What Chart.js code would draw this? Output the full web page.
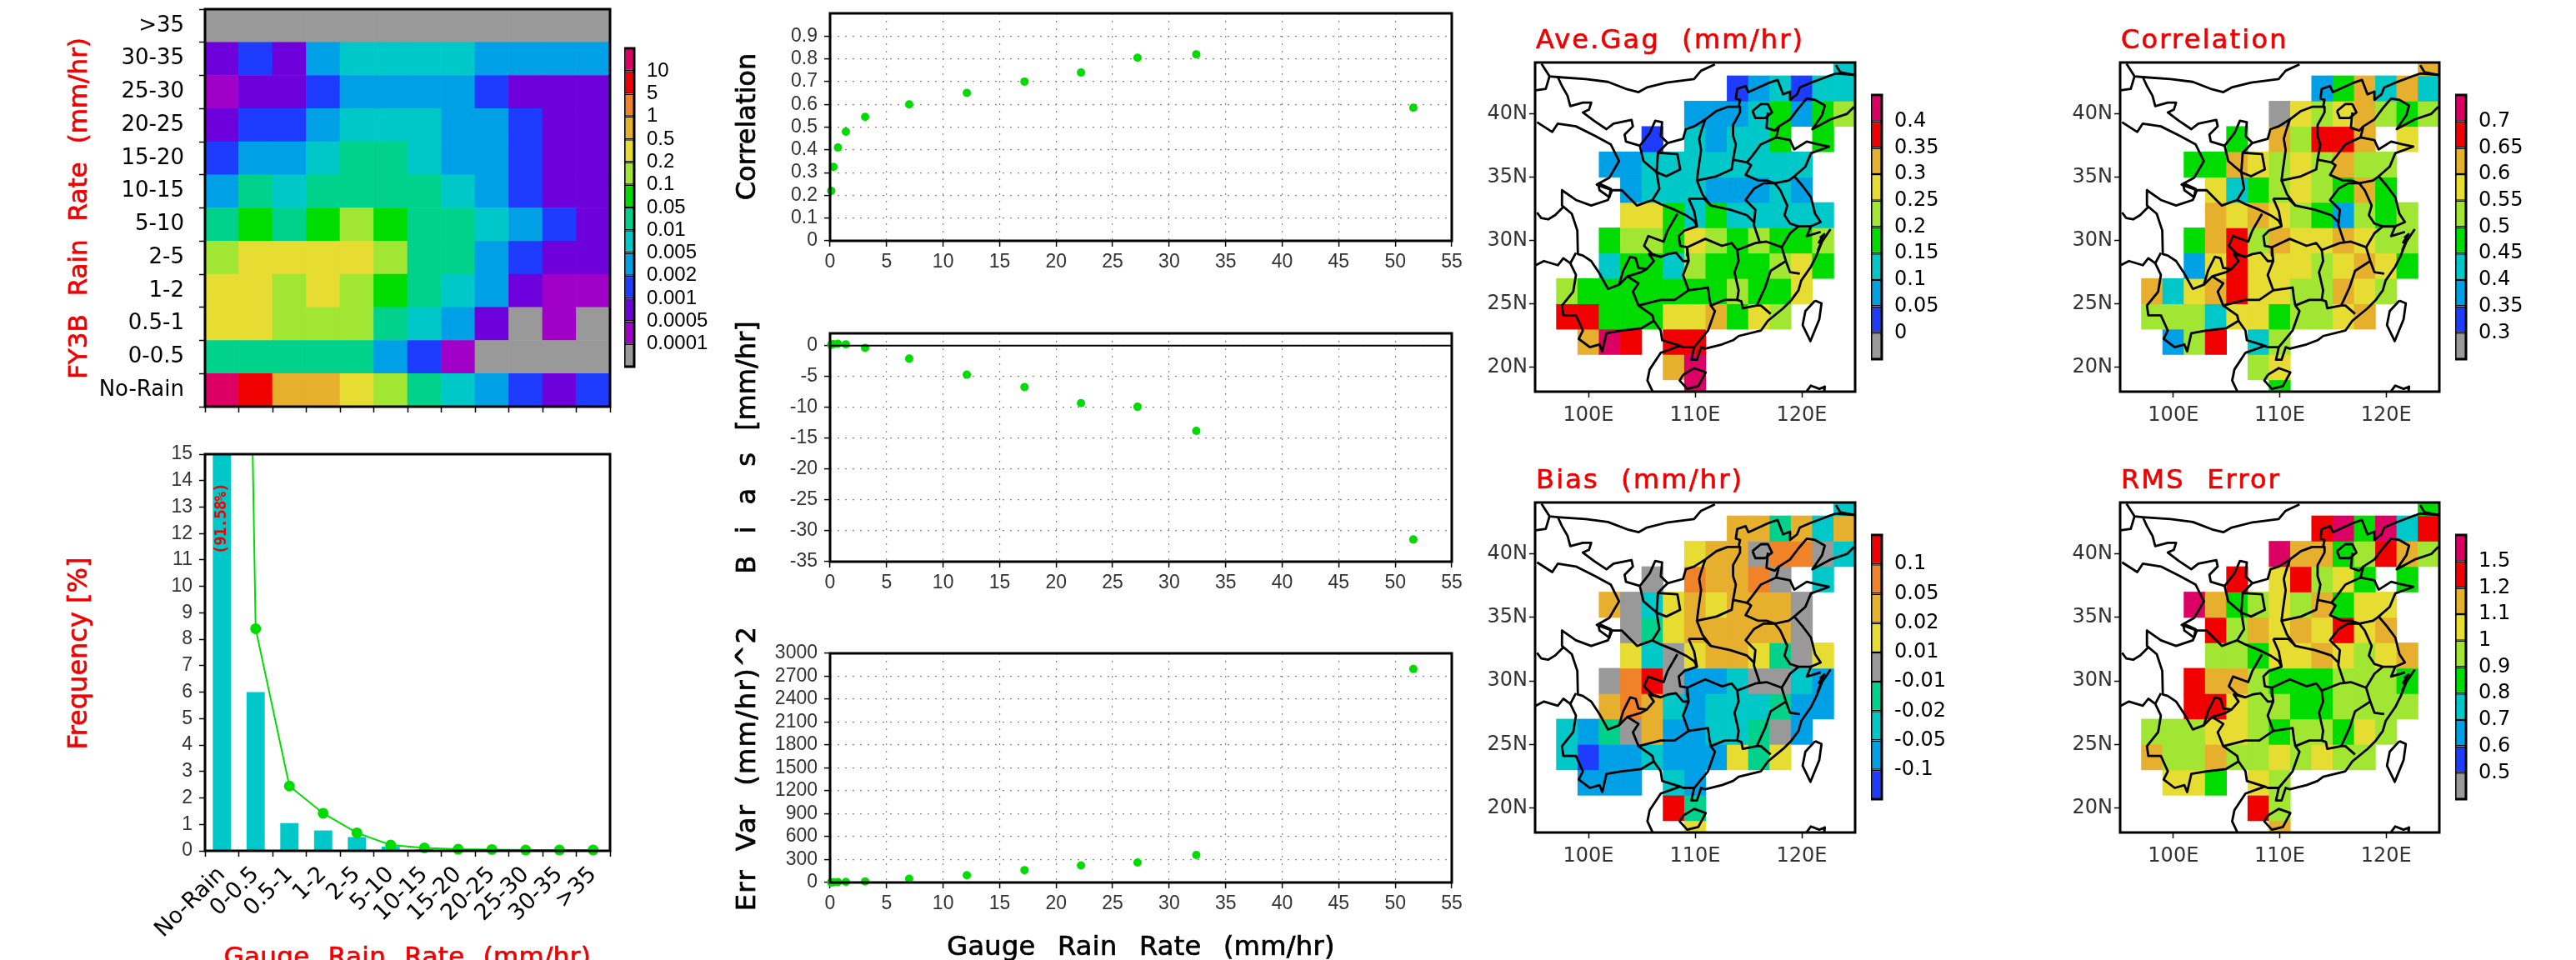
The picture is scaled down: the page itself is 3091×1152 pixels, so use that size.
<!DOCTYPE html>
<html>
<head>
<meta charset="utf-8">
<title>FY3B rain rate validation</title>
<script src="https://cdn.jsdelivr.net/npm/chart.js@4"></script>
<style>
html, body { margin: 0; background: #fff; width: 3091px; height: 1152px; overflow: hidden; }
canvas { position: absolute; }
</style>
</head>
<body>
<script>
// ---- data ----
var rateLabels = ['No-Rain', '0-0.5', '0.5-1', '1-2', '2-5', '5-10', '10-15', '15-20', '20-25', '25-30', '30-35', '>35'];
var freqBars = [91.58, 6.0, 1.05, 0.77, 0.52, 0.16, 0.06, 0.03, 0.02, 0.01, 0.01, 0.01];
var freqLine = [84, 8.4, 2.45, 1.42, 0.68, 0.22, 0.11, 0.06, 0.05, 0.03, 0.03, 0.03];

// heat map colour bins, top row (>35) first, hex digit = bin of heatBarLabels
var heatBins = [
    '000000000000', '232455554444', '122344443222', '233455544322',
    '344566544322', '465666654322', '676787665432', '899998664322',
    '998987654211', '998886542010', '666664310000', 'dcaa98654323'
];
var heatBarLabels = ['0.0001', '0.0005', '0.001', '0.002', '0.005', '0.01', '0.05', '0.1', '0.2', '0.5', '1', '5', '10'];

var gaugeRate = [0.1, 0.3, 0.7, 1.4, 3.1, 7, 12.1, 17.2, 22.2, 27.2, 32.4, 51.6];
var correlation = [0.22, 0.325, 0.41, 0.48, 0.545, 0.6, 0.65, 0.7, 0.74, 0.805, 0.82, 0.585];
var bias = [0.15, 0.25, 0.3, 0.2, -0.35, -2.1, -4.7, -6.7, -9.3, -9.9, -13.8, -31.4];
var errVar = [1, 3, 5, 8, 15, 50, 96, 162, 224, 262, 360, 2795];

var lonTicks = [100, 110, 120];
var latTicks = [20, 25, 30, 35, 40];
var cellLons = [98, 100, 102, 104, 106, 108, 110, 112, 114, 116, 118, 120, 122, 124];
var cellLats = [44, 42, 40, 38, 36, 34, 32, 30, 28, 26, 24, 22, 20, 18];

// map cells, north row first, digit = colour bin, dot = no gauges
var aveGagBins = [
    '.............3', '........123133', '......22234245', '....1.32334.4.', '..2233333333..',
    '...233322232..', '...6643433333.', '..45546545445.', '..34435444564.', '544444445446..',
    '88444667465...', '.798.88.......', '.....79.......', '......9.......'
];
var aveGagLabels = ['0', '0.05', '0.1', '0.15', '0.2', '0.25', '0.3', '0.35', '0.4'];

var corrBins = [
    '.............7', '........247373', '......06567545', '....4.75887.6.', '..4476565755..',
    '...634565474..', '...7676542545.', '..47857667655.', '..26866656764.', '736786655765..',
    '55536645567...', '.258.35.......', '.....56.......', '......4.......'
];
var corrLabels = ['0.3', '0.35', '0.4', '0.45', '0.5', '0.55', '0.6', '0.65', '0.7'];

var biasBins = [
    '.............2', '........663626', '......56647742', '....4.76674.2.', '..6425656664..',
    '...435666664..', '...5245665345.', '..47841124421.', '..67621222311.', '213461122341..',
    '20112111535...', '.111.21.......', '.....83.......', '......5.......'
];
var biasLabels = ['-0.1', '-0.05', '-0.02', '-0.01', '0.01', '0.02', '0.05', '0.1'];

var rmsBins = [
    '.............4', '........894938', '......97745875', '....8.68564.4.', '..9745657466..',
    '...857676867..', '...5546676567.', '..87754445554.', '..88655445555.', '555665455465..',
    '75575565655...', '.664.65.......', '.....85.......', '......7.......'
];
var rmsLabels = ['0.5', '0.6', '0.7', '0.8', '0.9', '1', '1.1', '1.2', '1.5'];

// map outlines in lon / lat
var northBorder = [[95.6,43.95],[96.35,42.96],[97.13,42.9],[99.74,42.74],[101.83,42.52],[103.65,41.93],[104.7,41.71],[105.48,42.08],[107.3,42.46],[109.9,42.74],[110.56,43.4],[111.86,43.9]];
var xinjiangEdge = [[95.05,41.86],[96,41.97],[96.35,42.96]];
var alxaEdge = [[97.13,42.9],[97.52,42.19],[98.04,41.43],[98.3,40.61],[99.48,40.88],[100.26,40.88],[100.05,40.33],[99.48,40.11],[100.52,39.45],[101.69,38.79],[102.35,39.23],[104.04,39.52],[104.17,39.01],[103.39,38.36],[103.52,37.81],[104.82,37.48]];
var qinghaiEdge = [[95.18,39.34],[96.61,38.57],[97.13,39.23],[98.83,39.01],[100.65,38.25],[102.09,37.59],[102.87,36.27],[101.96,34.96],[100.78,34.41],[102.22,33.97],[101.83,33.2],[100.26,32.76],[98.83,33.2],[97.52,33.97],[97.52,32.76],[98.44,32.11],[98.96,30.79],[99.01,28.93],[99.48,28.82],[100.26,28.38],[101.04,27.39],[101.83,26.18],[102.87,26.51],[103.26,27.61],[103.91,28.71],[104.43,28.6],[104.69,27.83],[105.48,27.76],[106.13,28.38],[105.68,28.93],[106.78,28.71],[107.43,28.93],[108.21,29.04],[108.87,28.38],[109.39,28.38]];
var qinghaiLake = [[100.91,34.52],[102.09,34.08],[101.96,33.42],[101.04,33.97],[100.91,34.52]];
var tibetEdge = [[95.18,32.21],[95.57,31.78],[96.22,31.67],[96.87,32],[97.65,32.65]];
var southwestBorder = [[95.05,28.05],[95.83,28.38],[97.13,28.05],[97.65,28.6],[98.3,28.2],[98.83,29.03]];
var southBorder = [[98.3,28.2],[98.83,27.28],[98.57,25.96],[97.52,24.87],[97.65,24.1],[98.83,24.1],[99.48,22.89],[99.09,22.24],[100.13,21.58],[101.04,21.8],[101.3,21.25],[101.69,22.68],[103.13,22.89],[104.95,23.07],[106.13,23.66],[106.78,22.89],[106.91,22.13],[108.6,21.69],[108.87,21.58],[109.91,21.58],[109.65,20.59],[110.17,20.59],[110.56,21.58],[110.95,21.47],[112.52,21.8],[113.56,22.13],[114.08,22.46],[116.17,22.89],[116.82,23.66],[118.25,24.65],[119.03,25.31],[119.69,26.07],[119.95,26.84],[120.86,27.94],[121.38,28.82],[121.9,29.91],[122.69,30.9]];
var vietnamCoast = [[108.6,21.69],[106.78,21.14],[105.74,19.82],[105.53,18.95],[106,18.11]];
var hainan = [[108.87,19.39],[109.91,19.93],[111,19.6],[110.3,18.5],[109.26,18.29],[108.55,18.95],[108.87,19.39]];
var taiwan = [[121.25,25.26],[121.85,25.04],[121.64,23.77],[120.81,22.06],[120.08,23.33],[120.34,24.43],[121.25,25.26]];
var luzon = [[120.47,18.11],[120.86,18.55],[121.64,18.29],[122.16,18.46],[122.11,18.07]];
var zhoushan = [[121.5,29.2],[121.95,30.1],[121.6,29.85],[122.1,30.5],[121.7,30.2]];
var eastCoast = [[121.77,30.68],[120.47,30.35],[120.86,31.12],[121.77,31.45],[121.25,32.11],[120.86,33.42],[120.08,34.3],[119.3,35.07],[120.34,35.83],[120.86,36.89],[122.55,37.41],[121.51,37.59],[120.47,37.81],[119.3,37.19],[118.9,37.92],[117.6,38.14],[117.86,39.01],[118.9,39.56],[119.69,40.44],[120.47,41.21],[121.25,41.1],[122.16,40.66],[121.9,39.89],[120.99,38.79],[122.69,39.56],[124.25,40],[124.9,40.55]];
var koreaEdge = [[123.2,43.84],[123.6,43.29],[124.9,43.07]];
var innerMongolia = [[110.95,39.56],[112,40.22],[113.04,40.55],[114.08,40.55],[114.21,41.1],[113.82,41.21],[113.95,41.97],[114.73,42.19],[115,41.71],[116.82,42.41],[117.73,42.68],[118.25,41.54],[118.9,41.75],[118.9,41.1],[119.56,41.54],[119.82,42.08],[120.73,42.41],[122.69,43.03],[123.21,43.18],[124.9,43.07]];
var yellowRiver = [[110.95,39.56],[110.56,38.57],[110.38,38.03],[110.56,37.15],[110.3,35.61],[110.17,34.74],[112,35.07],[113.43,35.61],[113.56,36.38],[114.86,36.16],[115.38,36.71],[116.17,37.59],[117.6,38.14]];
var shanxiEast = [[114.21,40.55],[114.21,40.11],[113.56,39.12],[113.56,38.25],[113.82,37.59],[113.56,36.38]];
var henanNorth = [[114.86,36.16],[115.25,35.94],[114.73,35.18],[115.91,34.74],[116.69,34.74],[117.47,34.52],[118.77,34.74],[119.3,35.07]];
var beijing = [[115.38,40.22],[116.17,40.77],[116.82,40.77],[117.21,40.11],[116.56,39.67],[115.65,39.67],[115.38,40.22]];
var tianjin = [[116.82,40.11],[116.69,38.9],[117.47,38.68],[117.86,39.01]];
var jiangsuWest = [[117.47,34.52],[117.99,33.97],[118.64,32.76],[118.38,32],[118.9,31.34],[119.69,31.12],[120.86,31.12]];
var zhejiangEdge = [[119.69,31.12],[118.9,30.57],[118.12,29.47],[118.51,28.38],[118.9,27.5],[119.82,27.39]];
var henanSouth = [[110.17,34.74],[110.69,33.64],[111.47,32.76],[113.3,32.43],[114.86,32],[115.51,31.45]];
var anhuiWest = [[117.47,34.52],[116.43,34.52],[115.51,34.08],[114.73,33.2],[115.65,32.43],[115.51,31.23],[116.04,29.91]];
var hubeiWest = [[109.39,33.31],[110.82,33.31],[111.47,32.76]];
var hubeiEdge = [[109.39,33.31],[109.91,32.32],[110.17,31.12],[109,30.79],[108.47,30.35],[108.6,29.58],[109.26,29.47],[109.26,28.82]];
var hunanNorth = [[109.26,29.47],[110.95,30.13],[112.52,29.58],[113.43,29.8],[113.95,29.25],[115.65,29.8],[116.69,29.91],[118.12,29.47]];
var hunanWest = [[109.26,29.47],[109.39,28.38],[108.87,27.28],[109.39,26.07],[111.21,26.29],[111.34,25.42],[111.47,24.87],[111.86,24.43],[111.21,22.89],[109.91,21.58]];
var hunanEast = [[113.95,29.25],[114.08,28.38],[113.69,27.5],[114.08,26.07],[113.95,25.31]];
var guangdongNorth = [[111.47,24.87],[112.78,25.31],[113.95,25.31],[114.34,25.2],[114.47,24.65],[115.78,24.87],[116.17,24.87],[117.08,24.21]];
var jiangxiEast = [[118.51,28.38],[117.08,27.61],[116.56,26.29],[115.78,24.87]];
var guizhouSouth = [[102.87,26.51],[103.65,27.17],[104.69,26.62],[104.17,25.96],[104.69,24.87],[106.78,25.31],[108.08,25.31],[109.39,26.07]];
var guizhouNorth = [[103.65,27.17],[104.95,27.5],[105.48,27.76]];
var yunnanEast = [[104.69,24.87],[106,24.1],[106.13,23.66]];
var chongqing = [[108.34,32.11],[107.43,30.79],[107.04,29.91],[105.61,30.35],[105.22,29.58],[106,28.93],[106.78,28.71]];
var sichuanNorth = [[106,33.2],[106.78,32.87],[108.08,32.43],[109.13,32],[109.91,31.56],[110.17,31.12]];
var ningxia = [[104.82,37.48],[105.74,38.46],[106.26,39.45],[106.91,39.34],[106.78,38.25],[107.43,37.7],[106.52,36.93],[106.39,35.39],[105.16,36.27],[104.82,37.48]];
var gansuEast = [[106.52,36.93],[108.34,36.82],[108.6,35.61],[107.3,35.07],[106.39,35.39],[106.65,34.08],[106,33.2],[104.56,32.76],[103.13,33.97],[102.22,33.97]];
var shaanxiNorth = [[107.43,37.7],[108.87,38.03],[109.13,38.79],[109.91,39.01],[110.95,39.56]];
var outlines = [northBorder, xinjiangEdge, alxaEdge, qinghaiEdge, qinghaiLake, tibetEdge, southwestBorder, southBorder, vietnamCoast, hainan, taiwan, luzon, zhoushan, eastCoast, koreaEdge, innerMongolia, yellowRiver, shanxiEast, henanNorth, beijing, tianjin, jiangsuWest, zhejiangEdge, henanSouth, anhuiWest, hubeiWest, hubeiEdge, hunanNorth, hunanWest, hunanEast, guangdongNorth, jiangxiEast, guizhouSouth, guizhouNorth, yunnanEast, chongqing, sichuanNorth, ningxia, gansuEast, shaanxiNorth];

// ---- colours ----
var GREY = '#999999', PURPLE = '#a000c8', VIOLET = '#6e00dc', BLUE = '#1e3cff', SKY = '#00a0e6',
    TEAL = '#00c8c8', SEA = '#00d28c', GREEN = '#00dc00', LIME = '#a0e632', YELLOW = '#e6dc32',
    AMBER = '#e6af2d', ORANGE = '#f08228', RED = '#f00000', CRIMSON = '#dc0064';
var heatColors = [GREY, PURPLE, VIOLET, BLUE, SKY, TEAL, SEA, GREEN, LIME, YELLOW, AMBER, ORANGE, RED, CRIMSON];
var mapColors = [GREY, BLUE, SKY, TEAL, GREEN, LIME, YELLOW, AMBER, RED, CRIMSON];
var biasColors = [BLUE, SKY, TEAL, SEA, GREY, YELLOW, AMBER, ORANGE, RED];

var THIN = 'Liberation Sans', WIDE = 'DejaVu Sans';
Chart.defaults.animation = false;
Chart.defaults.responsive = false;
Chart.defaults.plugins.legend.display = false;
Chart.defaults.plugins.tooltip.enabled = false;

// canvas sits so that the plot area lands exactly on rect
function addCanvas(rect, m) {
    var c = document.createElement('canvas');
    c.width = rect.w + m.l + m.r;
    c.height = rect.h + m.t + m.b;
    c.style.left = (rect.x - m.l) + 'px';
    c.style.top = (rect.y - m.t) + 'px';
    document.body.appendChild(c);
    return c;
}

function layoutFor(m) {
    return { autoPadding: false, padding: { top: m.t, right: m.r, left: 0, bottom: 0 } };
}

// fixed scale sizes, no extra padding for labels hanging over the plot area
function fixHeight(h) {
    return function(s) { s.height = h; s.paddingLeft = s.paddingRight = 0; };
}
function fixWidth(w) {
    return function(s) { s.width = w; s.paddingTop = s.paddingBottom = 0; };
}

// black frame and free text (titles) in page coordinates
function decor(rect, m, texts, frameWidth) {
    return {
        id: 'decor',
        afterDatasetsDraw: function(chart) {
            var ctx = chart.ctx, a = chart.chartArea;
            ctx.save();
            if (frameWidth) {
                ctx.strokeStyle = '#000';
                ctx.lineWidth = frameWidth;
                ctx.strokeRect(a.left, a.top, a.right - a.left, a.bottom - a.top);
            }
            (texts || []).forEach(function(t) {
                ctx.save();
                ctx.translate(t.x - rect.x + m.l, t.y - rect.y + m.t);
                ctx.rotate(t.rot || 0);
                ctx.font = t.font;
                ctx.fillStyle = t.color;
                ctx.strokeStyle = t.color;
                ctx.lineWidth = 0.7;
                ctx.textAlign = t.align || 'center';
                ctx.textBaseline = 'middle';
                ctx.letterSpacing = (t.letter || 0) + 'px';
                ctx.wordSpacing = (t.word || 0) + 'px';
                ctx.fillText(t.text, 0, 0);
                ctx.strokeText(t.text, 0, 0);
                ctx.restore();
            });
            ctx.restore();
        }
    };
}

function tickGrid(extra) {
    return Object.assign({ drawOnChartArea: false, tickLength: 7, tickColor: '#000', tickWidth: 1.5 }, extra || {});
}

// ---- heat map ----
function drawHeat() {
    var rect = { x: 246, y: 11, w: 486, h: 477 }, m = { l: 246, t: 11, r: 4, b: 10 };
    var rows = heatBins.slice().reverse();
    var datasets = rows.map(function(row, r) {
        var bins = row.split('').map(function(ch) { return parseInt(ch, 16); });
        return {
            data: bins.map(function() { return [r, r + 1]; }),
            backgroundColor: bins.map(function(b) { return heatColors[b]; }),
            barPercentage: 1, categoryPercentage: 1, grouped: false
        };
    });
    var texts = [{ text: 'FY3B Rain Rate (mm/hr)', x: 96, y: 250, rot: -Math.PI / 2, font: '31px ' + WIDE, color: '#f00000', word: 12 }];
    new Chart(addCanvas(rect, m), {
        type: 'bar',
        data: { labels: rateLabels, datasets: datasets },
        plugins: [decor(rect, m, texts, 3)],
        options: {
            layout: layoutFor(m),
            scales: {
                x: {
                    grid: tickGrid({ offset: true }), border: { display: false }, ticks: { display: false },
                    afterFit: fixHeight(m.b)
                },
                y: {
                    min: 0, max: 12, grid: tickGrid(), border: { display: false },
                    ticks: {
                        stepSize: 1, autoSkip: false, labelOffset: -rect.h / 24, padding: 18, color: '#000',
                        font: { family: WIDE, size: 26 },
                        callback: function(v) { return rateLabels[v] || ''; }
                    },
                    afterFit: fixWidth(m.l)
                }
            }
        }
    });
}

// ---- frequency bars and line ----
function drawFrequency() {
    var rect = { x: 246, y: 545, w: 486, h: 476 }, m = { l: 246, t: 20, r: 4, b: 160 };
    var texts = [
        { text: 'Frequency [%]', x: 96, y: 784, rot: -Math.PI / 2, font: '32px ' + WIDE, color: '#f00000' },
        { text: 'Gauge Rain Rate (mm/hr)', x: 489, y: 1150, font: '31px ' + WIDE, color: '#f00000', word: 12, letter: 0.3 }
    ];
    var noteAt = {
        id: 'noteAt',
        afterDatasetsDraw: function(chart) {
            var ctx = chart.ctx;
            ctx.save();
            ctx.translate(chart.scales.x.getPixelForValue(0), chart.scales.y.getPixelForValue(12.55));
            ctx.rotate(-Math.PI / 2);
            ctx.font = 'bold 19px "DejaVu Sans Mono"';
            ctx.letterSpacing = '-0.8px';
            ctx.fillStyle = '#f00000';
            ctx.textAlign = 'center';
            ctx.textBaseline = 'middle';
            ctx.fillText('(91.58%)', 0, 0);
            ctx.restore();
        }
    };
    new Chart(addCanvas(rect, m), {
        type: 'bar',
        data: {
            labels: rateLabels,
            datasets: [
                { data: freqBars, backgroundColor: TEAL, barPercentage: 0.54, categoryPercentage: 1, order: 2 },
                {
                    type: 'line', data: freqLine, borderColor: GREEN, borderWidth: 2, backgroundColor: GREEN,
                    pointRadius: 6.5, pointBackgroundColor: GREEN, pointBorderWidth: 0, tension: 0, order: 1,
                    clip: { left: 0, top: 0, right: 0, bottom: 8 }
                }
            ]
        },
        plugins: [noteAt, decor(rect, m, texts, 3)],
        options: {
            layout: layoutFor(m),
            scales: {
                x: {
                    grid: tickGrid({ offset: true }), border: { display: false },
                    ticks: { autoSkip: false, maxRotation: 45, minRotation: 45, padding: 6, color: '#000', font: { family: WIDE, size: 27 } },
                    afterFit: fixHeight(m.b)
                },
                y: {
                    min: 0, max: 15, grid: tickGrid(), border: { display: false },
                    ticks: { stepSize: 1, autoSkip: false, padding: 8, color: '#333', font: { family: THIN, size: 23 } },
                    afterFit: fixWidth(m.l)
                }
            }
        }
    });
}

// ---- colour bar, one floating bar per colour ----
function drawColorBar(rect, colors, labels, font) {
    var m = { l: 0, t: 4, r: 100, b: 4 };
    var c = addCanvas(rect, m);
    new Chart(c, {
        type: 'bar',
        data: {
            labels: [''],
            datasets: colors.map(function(col, i) {
                return {
                    data: [[i, i + 1]], backgroundColor: col, borderColor: '#000', borderWidth: 1.5, borderSkipped: false,
                    barPercentage: 1, categoryPercentage: 1, grouped: false, inflateAmount: 0
                };
            })
        },
        plugins: [decor(rect, m, null, 3)],
        options: {
            layout: { autoPadding: false, padding: { top: m.t, bottom: m.b, left: 0, right: 0 } },
            scales: {
                x: { display: false },
                y: {
                    position: 'right', min: 0, max: colors.length,
                    grid: { display: false }, border: { display: false },
                    ticks: {
                        stepSize: 1, autoSkip: false, padding: 7, color: '#000', font: font,
                        callback: function(v) { return labels[v - 1] || ''; }
                    },
                    afterFit: fixWidth(m.r)
                }
            }
        }
    });
}

// ---- scatter panels ----
function drawScatter(rect, values, yOpts, title, bottomTitle, extraSets) {
    var m = { l: 140, t: 34, r: 20, b: bottomTitle ? 100 : 44 };
    var points = gaugeRate.map(function(x, i) { return { x: x, y: values[i] }; });
    var sets = (extraSets || []).concat([{
        data: points, backgroundColor: GREEN, pointRadius: 5, pointBorderWidth: 0, clip: false
    }]);
    var texts = [title];
    if (bottomTitle) texts.push(bottomTitle);
    var dotted = { color: '#888', lineWidth: 1.2, tickLength: 7, tickColor: '#000', tickWidth: 1.5, tickBorderDash: [] };
    new Chart(addCanvas(rect, m), {
        type: 'scatter',
        data: { datasets: sets },
        plugins: [decor(rect, m, texts, 3)],
        options: {
            layout: layoutFor(m),
            scales: {
                x: {
                    min: 0, max: 55, grid: dotted, border: { display: false, dash: [2, 7] },
                    ticks: { stepSize: 5, autoSkip: false, maxRotation: 0, padding: 5, color: '#333', font: { family: THIN, size: 23 } },
                    afterFit: fixHeight(m.b)
                },
                y: {
                    min: yOpts.min, max: yOpts.max, grid: dotted, border: { display: false, dash: [2, 7] },
                    afterBuildTicks: function(s) { s.ticks = yOpts.ticks.map(function(v) { return { value: v }; }); },
                    ticks: { autoSkip: false, padding: 8, color: '#333', font: { family: THIN, size: 23 }, callback: function(v) { return String(v); } },
                    afterFit: fixWidth(m.l)
                }
            }
        }
    });
}

// ---- maps: each row of cells is a dataset of floating bars ----
function drawMap(rect, bins, colors, title) {
    var m = { l: 70, t: 41, r: 6, b: 50 };
    var datasets = [];
    bins.forEach(function(row, r) {
        var data = [], bg = [];
        row.split('').forEach(function(ch, k) {
            if (ch === '.') return;
            data.push({ x: cellLons[k], y: [cellLats[r] - 1, cellLats[r] + 1] });
            bg.push(colors[parseInt(ch, 16)]);
        });
        datasets.push({ data: data, backgroundColor: bg, barPercentage: 1, categoryPercentage: 1, grouped: false, order: 2 });
    });
    outlines.forEach(function(line) {
        datasets.push({
            type: 'line', order: 1, tension: 0, pointRadius: 0, borderColor: '#000', borderWidth: 2.8, borderJoinStyle: 'round',
            data: line.map(function(p) { return { x: p[0], y: p[1] }; })
        });
    });
    var texts = [{ text: title, x: rect.x + 1, y: rect.y - 25, align: 'left', font: '32px ' + WIDE, color: '#f00000', letter: 2.2, word: 14 }];
    new Chart(addCanvas(rect, m), {
        type: 'bar',
        data: { datasets: datasets },
        plugins: [decor(rect, m, texts, 3)],
        options: {
            layout: layoutFor(m),
            scales: {
                x: {
                    type: 'linear', min: 95, max: 125, offset: false, grid: tickGrid({ offset: false }), border: { display: false },
                    afterBuildTicks: function(s) { s.ticks = lonTicks.map(function(v) { return { value: v }; }); },
                    ticks: { maxRotation: 0, padding: 7, color: '#333', font: { family: WIDE, size: 24 }, callback: function(v) { return v + 'E'; } },
                    afterFit: fixHeight(m.b)
                },
                y: {
                    min: 18.07, max: 44.05, grid: tickGrid(), border: { display: false },
                    afterBuildTicks: function(s) { s.ticks = latTicks.map(function(v) { return { value: v }; }); },
                    ticks: { padding: 2, color: '#333', font: { family: WIDE, size: 24 }, callback: function(v) { return v + 'N'; } },
                    afterFit: fixWidth(m.l)
                }
            }
        }
    });
}

drawHeat();
drawFrequency();
drawColorBar({ x: 749, y: 58, w: 12, h: 382 }, heatColors, heatBarLabels, { family: THIN, size: 24 });

var rotLeft = -Math.PI / 2, titleFont = '32px ' + WIDE;
drawScatter({ x: 996, y: 16, w: 746, h: 273 }, correlation,
    { min: 0, max: 1, ticks: [0, 0.1, 0.2, 0.3, 0.4, 0.5, 0.6, 0.7, 0.8, 0.9] },
    { text: 'Correlation', x: 898, y: 152, rot: rotLeft, font: titleFont, color: '#000' });
drawScatter({ x: 996, y: 400, w: 746, h: 274 }, bias,
    { min: -35, max: 2, ticks: [-35, -30, -25, -20, -15, -10, -5, 0] },
    { text: 'B i a s [mm/hr]', x: 898, y: 537, rot: rotLeft, font: titleFont, color: '#000', word: 16 }, null,
    [{ type: 'line', data: [{ x: 0, y: 0 }, { x: 55, y: 0 }], borderColor: '#000', borderWidth: 2, pointRadius: 0 }]);
drawScatter({ x: 996, y: 784, w: 746, h: 275 }, errVar,
    { min: 0, max: 3000, ticks: [0, 300, 600, 900, 1200, 1500, 1800, 2100, 2400, 2700, 3000] },
    { text: 'Err Var (mm/hr)^2', x: 898, y: 922, rot: rotLeft, font: titleFont, color: '#000', word: 10, letter: 1.5 },
    { text: 'Gauge Rain Rate (mm/hr)', x: 1369, y: 1138, font: titleFont, color: '#000', word: 16, letter: 0.3 });

drawMap({ x: 1842, y: 75, w: 384, h: 395 }, aveGagBins, mapColors, 'Ave.Gag (mm/hr)');
drawMap({ x: 2544, y: 75, w: 383, h: 395 }, corrBins, mapColors, 'Correlation');
drawMap({ x: 1842, y: 603, w: 384, h: 396 }, biasBins, biasColors, 'Bias (mm/hr)');
drawMap({ x: 2544, y: 603, w: 383, h: 396 }, rmsBins, mapColors, 'RMS Error');

var wideBar = { family: WIDE, size: 24 };
drawColorBar({ x: 2245, y: 114, w: 13, h: 317 }, mapColors, aveGagLabels, wideBar);
drawColorBar({ x: 2946, y: 114, w: 13, h: 317 }, mapColors, corrLabels, wideBar);
drawColorBar({ x: 2245, y: 642, w: 13, h: 317 }, biasColors, biasLabels, wideBar);
drawColorBar({ x: 2946, y: 642, w: 13, h: 317 }, mapColors, rmsLabels, wideBar);
</script>
</body>
</html>
